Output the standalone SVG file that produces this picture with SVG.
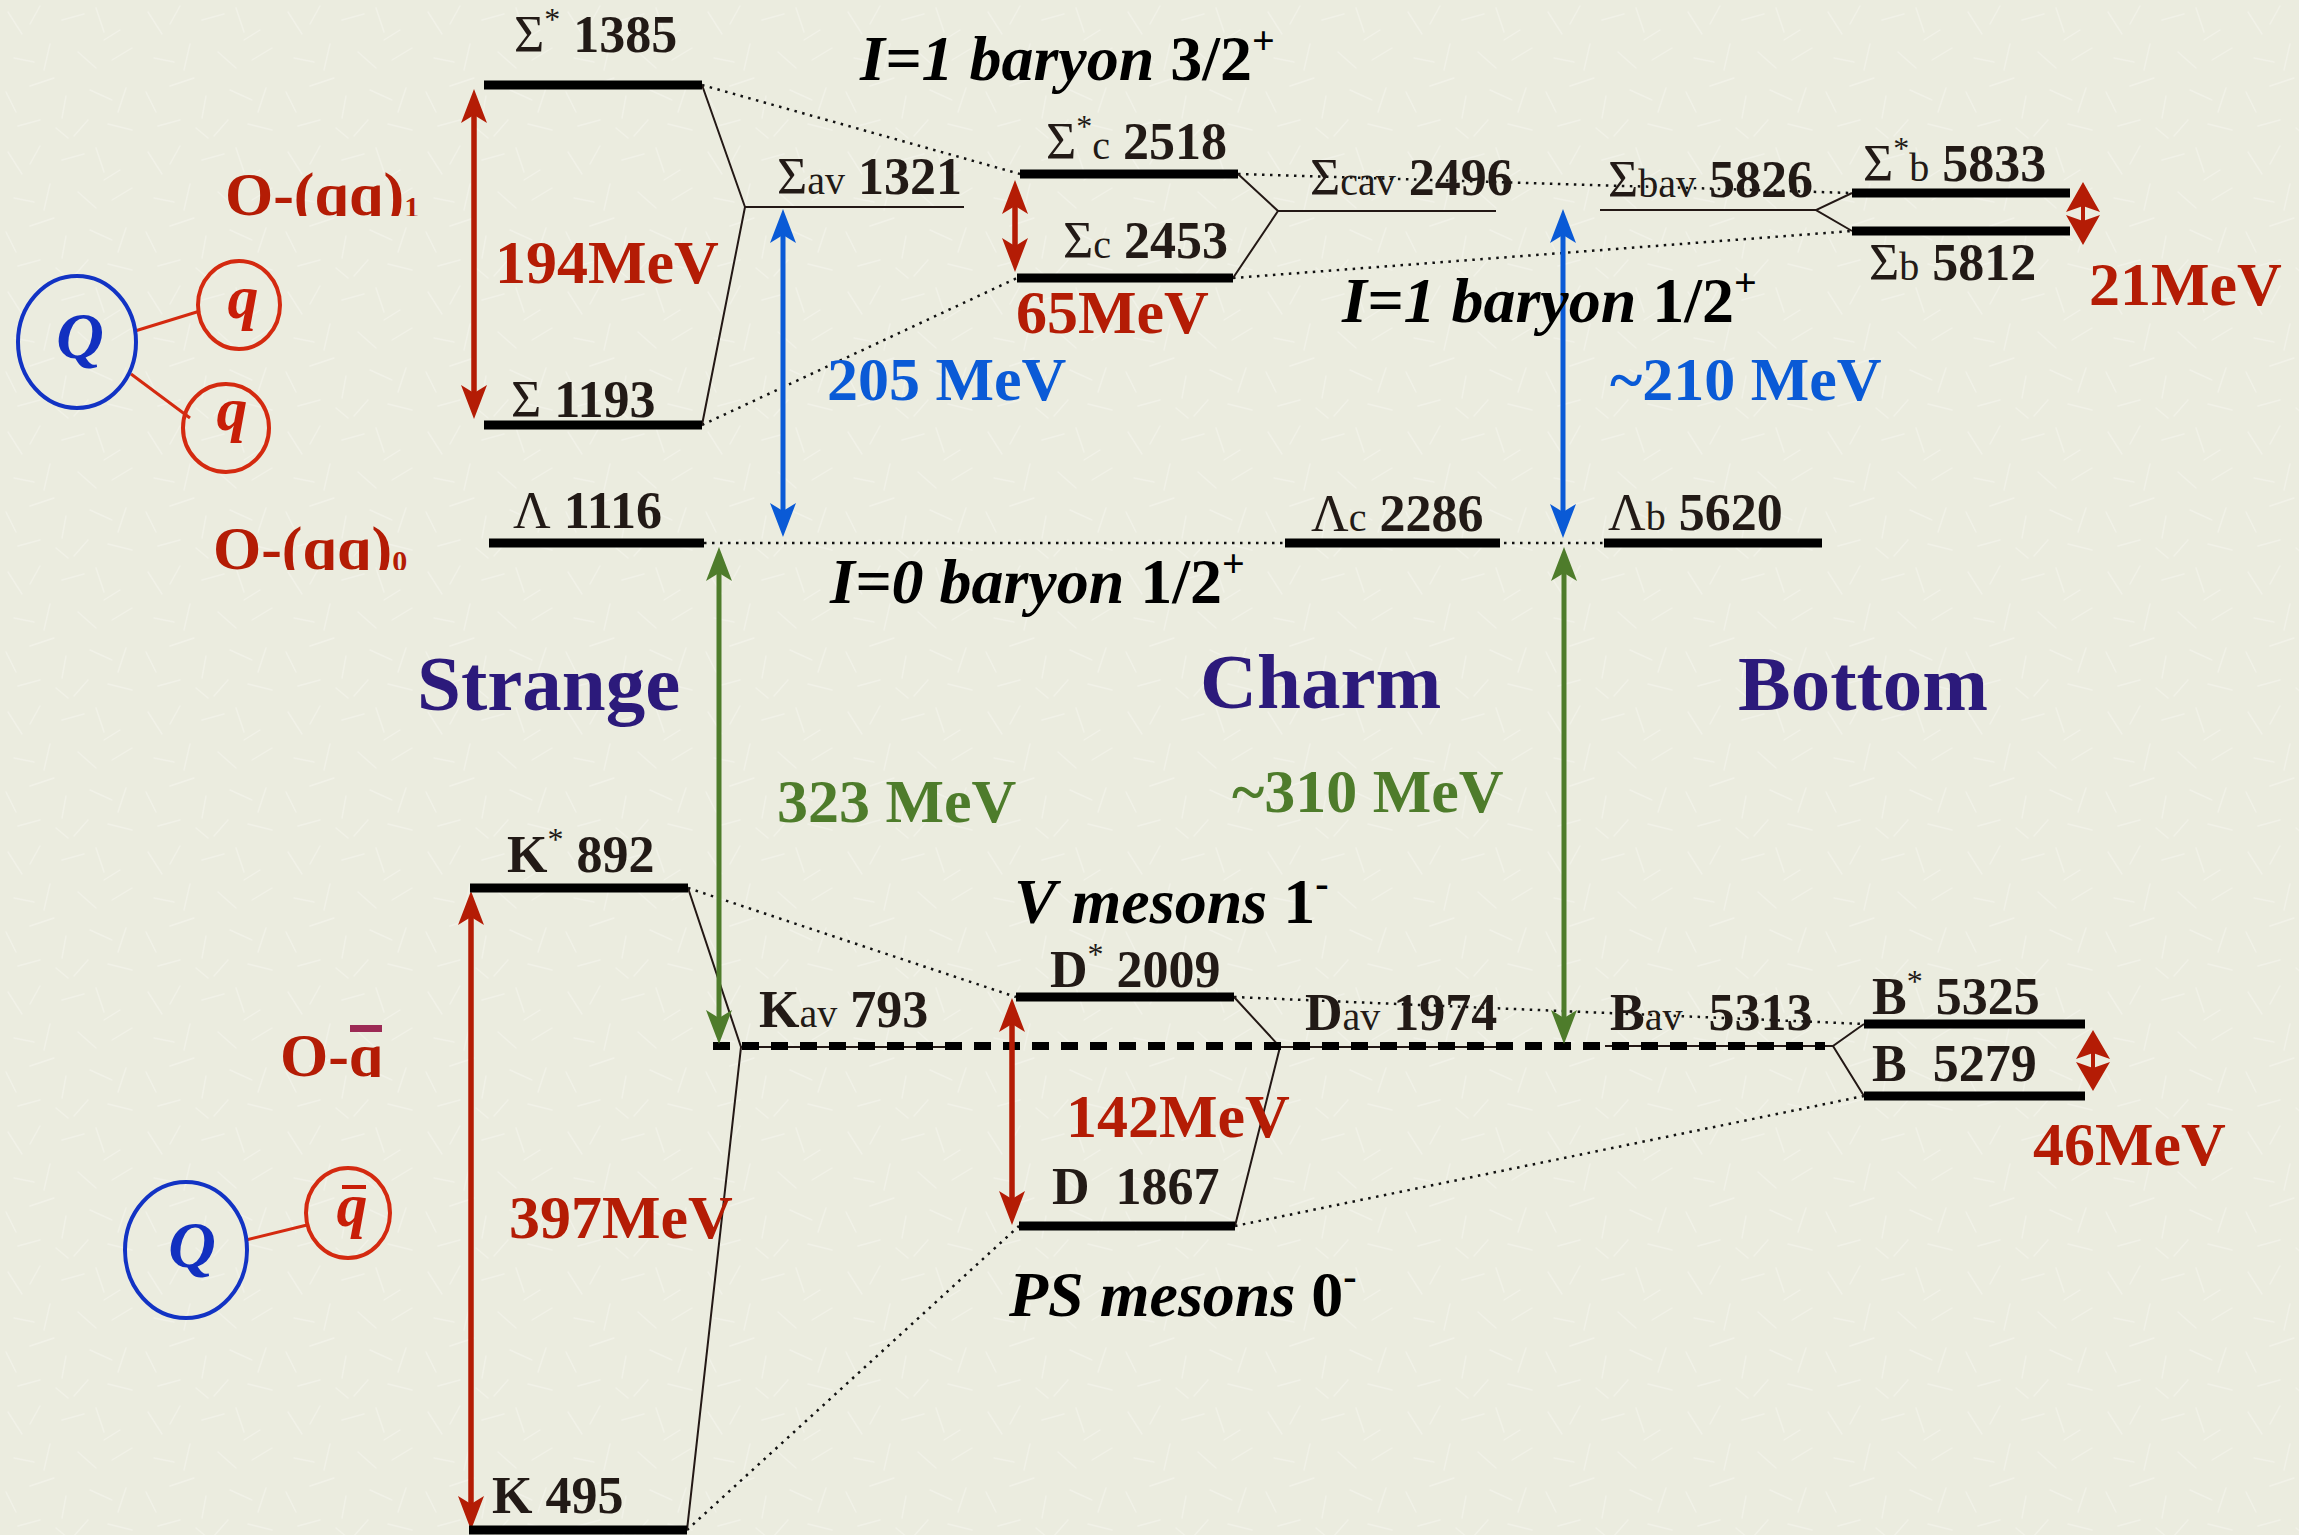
<svg xmlns="http://www.w3.org/2000/svg" width="2299" height="1535" viewBox="0 0 2299 1535">
<style>
.t{font-family:"Liberation Serif","Times New Roman",serif;font-weight:bold;fill:#221a16}
.lbl{font-size:52px}
.sym{font-weight:normal}
.sub{font-size:40px;font-weight:normal}
.sup{font-size:32px;font-weight:normal}
.mev{font-size:62px}
.red{fill:#b41c05}
.blue{fill:#0a5ad6}
.green{fill:#4e7c2b}
.head{font-size:79px;fill:#2c1a7b}
.ital{font-size:64px;fill:#000}
.it{font-style:italic}
.olbl{font-size:62px;fill:#b41c05}
.bar{stroke:#000;stroke-width:9;fill:none}
.thin{stroke:#231815;stroke-width:2;fill:none}
.dot{stroke:#111;stroke-width:2.5;stroke-dasharray:2.5 5.5;fill:none}
.dash{stroke:#000;stroke-width:8;stroke-dasharray:17 12;fill:none}
.ar{stroke:#b41c05;stroke-width:5.5;fill:none;marker-start:url(#ahR);marker-end:url(#ahR)}
.ab{stroke:#0a5ad6;stroke-width:5;fill:none;marker-start:url(#ahB);marker-end:url(#ahB)}
.ag{stroke:#4e7c2b;stroke-width:5;fill:none;marker-start:url(#ahG);marker-end:url(#ahG)}
.cb{fill:none;stroke:#1233c4;stroke-width:4}
.cr{fill:none;stroke:#d42a10;stroke-width:4}
.lr{stroke:#d42a10;stroke-width:3}
.qb{font-family:"Liberation Serif","Times New Roman",serif;font-weight:bold;font-style:italic;font-size:66px;fill:#1230c0}
.qr{font-family:"Liberation Serif","Times New Roman",serif;font-weight:bold;font-style:italic;font-size:62px;fill:#c81e08}
.tex{stroke:#f6f6ee;stroke-width:1.4;stroke-linecap:round;fill:none;opacity:0.55}
</style>
<defs>
<marker id="ahR" viewBox="0 0 34 26" refX="12" refY="13" markerWidth="34" markerHeight="26" markerUnits="userSpaceOnUse" orient="auto-start-reverse"><path d="M0,0 L34,13 L0,26 L8,13 Z" fill="#b41c05"/></marker>
<marker id="ahB" viewBox="0 0 34 26" refX="12" refY="13" markerWidth="34" markerHeight="26" markerUnits="userSpaceOnUse" orient="auto-start-reverse"><path d="M0,0 L34,13 L0,26 L8,13 Z" fill="#0a5ad6"/></marker>
<marker id="ahG" viewBox="0 0 34 26" refX="12" refY="13" markerWidth="34" markerHeight="26" markerUnits="userSpaceOnUse" orient="auto-start-reverse"><path d="M0,0 L34,13 L0,26 L8,13 Z" fill="#4e7c2b"/></marker>
<clipPath id="clipO1"><rect x="200" y="140" width="260" height="76"/></clipPath>
<clipPath id="clipO0"><rect x="190" y="495" width="260" height="75"/></clipPath>
<clipPath id="clipOq"><rect x="260" y="1000" width="160" height="77"/></clipPath>
<pattern id="paper" x="0" y="0" width="140" height="140" patternUnits="userSpaceOnUse">
  <rect width="140" height="140" fill="#ebecdf"/>
  <path class="tex" d="M8,12 l14,22 M40,6 l-10,18 M62,20 l22,-6 M96,8 l8,24 M120,30 l-16,10 M14,58 l20,4 M50,44 l-6,26 M78,52 l18,16 M112,60 l20,-12 M6,92 l10,20 M30,86 l24,-8 M66,96 l-4,22 M90,90 l22,10 M126,88 l-8,24 M18,126 l22,-6 M56,128 l12,10 M88,120 l-14,16 M108,124 l24,6"/>
</pattern>
</defs>
<rect x="0" y="0" width="2299" height="1535" fill="url(#paper)"/>

<!-- connectors -->
<g id="connectors">
  <line class="dot" x1="702" y1="85" x2="1020" y2="174"/>
  <line class="dot" x1="702" y1="425" x2="1017" y2="278"/>
  <line class="dot" x1="1238" y1="174" x2="1852" y2="193"/>
  <line class="dot" x1="1233" y1="278" x2="1852" y2="231"/>
  <line class="dot" x1="704" y1="543" x2="1604" y2="543"/>
  <line class="dot" x1="688" y1="888" x2="1016" y2="997"/>
  <line class="dot" x1="687" y1="1530" x2="1019" y2="1226"/>
  <line class="dot" x1="1234" y1="997" x2="1864" y2="1024"/>
  <line class="dot" x1="1235" y1="1226" x2="1864" y2="1096"/>
  <polyline class="thin" points="702,85 745,207 702,425"/>
  <polyline class="thin" points="1238,174 1278,211 1233,278"/>
  <polyline class="thin" points="1852,193 1816,210 1852,231"/>
  <polyline class="thin" points="688,888 741,1047 687,1530"/>
  <polyline class="thin" points="1234,997 1280,1047 1235,1226"/>
  <polyline class="thin" points="1864,1024 1833,1046 1864,1096"/>
  <line class="thin" x1="745" y1="207" x2="964" y2="207"/>
  <line class="thin" x1="1278" y1="211" x2="1496" y2="211"/>
  <line class="thin" x1="1600" y1="210" x2="1816" y2="210"/>
  <line class="thin" x1="741" y1="1047" x2="960" y2="1047"/>
  <line class="thin" x1="1280" y1="1047" x2="1500" y2="1047"/>
  <line class="thin" x1="1605" y1="1046" x2="1833" y2="1046"/>
  <line class="dash" x1="713" y1="1046" x2="1825" y2="1046"/>
  <line class="ar" x1="474" y1="111" x2="474" y2="397"/>
  <line class="ar" x1="1015" y1="202" x2="1015" y2="250"/>
  <line class="ar" x1="471" y1="913" x2="471" y2="1508"/>
  <line class="ar" x1="1012" y1="1020" x2="1012" y2="1203"/>
  <line class="ab" x1="783" y1="231" x2="783" y2="515"/>
  <line class="ab" x1="1563" y1="231" x2="1563" y2="516"/>
  <line class="ag" x1="719" y1="569" x2="719" y2="1022"/>
  <line class="ag" x1="1564" y1="569" x2="1564" y2="1022"/>
  <g fill="#b41c05">
    <path d="M2083,182 L2100,212 L2083,206 L2066,212 Z M2083,245 L2100,215 L2083,221 L2066,215 Z"/>
    <rect x="2081" y="205" width="4" height="17"/>
    <path d="M2093,1030 L2110,1059 L2093,1053 L2076,1059 Z M2093,1091 L2110,1062 L2093,1068 L2076,1062 Z"/>
    <rect x="2091" y="1052" width="4" height="17"/>
  </g>
</g>

<!-- quark pictograms -->
<g id="diquark-pict">
  <line class="lr" x1="135" y1="331" x2="200" y2="311"/>
  <line class="lr" x1="131" y1="374" x2="190" y2="418"/>
  <ellipse class="cb" cx="77" cy="342" rx="59" ry="66"/>
  <ellipse class="cr" cx="239" cy="305" rx="41" ry="44"/>
  <ellipse class="cr" cx="226" cy="428" rx="43" ry="44"/>
  <text class="qb" x="80" y="358" text-anchor="middle">Q</text>
  <text class="qr" x="243" y="318" text-anchor="middle">q</text>
  <text class="qr" x="232" y="430" text-anchor="middle">q</text>
</g>
<g id="antiquark-pict">
  <line class="lr" x1="246" y1="1240" x2="307" y2="1225"/>
  <ellipse class="cb" cx="186" cy="1250" rx="61" ry="68"/>
  <ellipse class="cr" cx="348" cy="1213" rx="42" ry="45"/>
  <text class="qb" x="192" y="1267" text-anchor="middle">Q</text>
  <text class="qr" x="352" y="1226" text-anchor="middle">q</text>
  <rect x="342" y="1185" width="24" height="4" fill="#c81e08"/>
</g>

<!-- labels on the left -->
<g id="O-qq1"><text class="t olbl" x="225" y="215" clip-path="url(#clipO1)">O-(qq)<tspan font-size="30" dy="2">1</tspan></text></g>
<g id="O-qq0"><text class="t olbl" x="213" y="569" clip-path="url(#clipO0)">O-(qq)<tspan font-size="30" dy="2">0</tspan></text></g>
<g id="O-qbar"><text class="t olbl" x="280" y="1076" clip-path="url(#clipOq)">O-q</text><rect x="350" y="1025" width="32" height="7" fill="#9c2a55"/></g>

<!-- Strange baryons -->
<g id="Sigma-star-1385"><line class="bar" x1="484" y1="85" x2="702" y2="85"/><text class="t lbl" x="514" y="52"><tspan class="sym">Σ</tspan><tspan class="sup" dy="-22">*</tspan><tspan dy="22"> 1385</tspan></text></g>
<g id="Sigma-1193"><line class="bar" x1="484" y1="425" x2="702" y2="425"/><text class="t lbl" x="511" y="417"><tspan class="sym">Σ</tspan> 1193</text></g>
<g id="Sigma-av-1321"><text class="t lbl" x="777" y="194"><tspan class="sym">Σ</tspan><tspan class="sub">av</tspan> 1321</text></g>
<g id="Lambda-1116"><line class="bar" x1="489" y1="543" x2="704" y2="543"/><text class="t lbl" x="513" y="528"><tspan class="sym">Λ</tspan> 1116</text></g>

<!-- Charm baryons -->
<g id="Sigma-c-star-2518"><line class="bar" x1="1020" y1="174" x2="1238" y2="174"/><text class="t lbl" x="1046" y="159"><tspan class="sym">Σ</tspan><tspan class="sup" dy="-22">*</tspan><tspan class="sub" dy="22">c</tspan> 2518</text></g>
<g id="Sigma-c-2453"><line class="bar" x1="1017" y1="278" x2="1233" y2="278"/><text class="t lbl" x="1063" y="258"><tspan class="sym">Σ</tspan><tspan class="sub">c</tspan> 2453</text></g>
<g id="Sigma-cav-2496"><text class="t lbl" x="1310" y="195"><tspan class="sym">Σ</tspan><tspan class="sub">cav</tspan> 2496</text></g>
<g id="Lambda-c-2286"><line class="bar" x1="1285" y1="543" x2="1500" y2="543"/><text class="t lbl" x="1311" y="531"><tspan class="sym">Λ</tspan><tspan class="sub">c</tspan> 2286</text></g>

<!-- Bottom baryons -->
<g id="Sigma-bav-5826"><text class="t lbl" x="1608" y="197"><tspan class="sym">Σ</tspan><tspan class="sub">bav</tspan> 5826</text></g>
<g id="Sigma-b-star-5833"><line class="bar" x1="1852" y1="193" x2="2070" y2="193"/><text class="t lbl" x="1863" y="181"><tspan class="sym">Σ</tspan><tspan class="sup" dy="-22">*</tspan><tspan class="sub" dy="22">b</tspan> 5833</text></g>
<g id="Sigma-b-5812"><line class="bar" x1="1852" y1="231" x2="2070" y2="231"/><text class="t lbl" x="1869" y="280"><tspan class="sym">Σ</tspan><tspan class="sub">b</tspan> 5812</text></g>
<g id="Lambda-b-5620"><line class="bar" x1="1604" y1="543" x2="1822" y2="543"/><text class="t lbl" x="1608" y="530"><tspan class="sym">Λ</tspan><tspan class="sub">b</tspan> 5620</text></g>

<!-- Mesons -->
<g id="K-star-892"><line class="bar" x1="470" y1="888" x2="688" y2="888"/><text class="t lbl" x="507" y="872">K<tspan class="sup" dy="-22">*</tspan><tspan dy="22"> 892</tspan></text></g>
<g id="K-495"><line class="bar" x1="469" y1="1530" x2="687" y2="1530"/><text class="t lbl" x="492" y="1513">K 495</text></g>
<g id="K-av-793"><text class="t lbl" x="759" y="1027">K<tspan class="sub">av</tspan> 793</text></g>
<g id="D-star-2009"><line class="bar" x1="1016" y1="997" x2="1234" y2="997"/><text class="t lbl" x="1050" y="987">D<tspan class="sup" dy="-22">*</tspan><tspan dy="22"> 2009</tspan></text></g>
<g id="D-1867"><line class="bar" x1="1019" y1="1226" x2="1235" y2="1226"/><text class="t lbl" x="1052" y="1204" xml:space="preserve">D  1867</text></g>
<g id="D-av-1974"><text class="t lbl" x="1305" y="1030">D<tspan class="sub">av</tspan> 1974</text></g>
<g id="B-av-5313"><text class="t lbl" x="1610" y="1030" xml:space="preserve">B<tspan class="sub">av</tspan>  5313</text></g>
<g id="B-star-5325"><line class="bar" x1="1864" y1="1024" x2="2085" y2="1024"/><text class="t lbl" x="1872" y="1014">B<tspan class="sup" dy="-22">*</tspan><tspan dy="22"> 5325</tspan></text></g>
<g id="B-5279"><line class="bar" x1="1864" y1="1096" x2="2085" y2="1096"/><text class="t lbl" x="1872" y="1081" xml:space="preserve">B  5279</text></g>

<!-- multiplet titles -->
<g id="titles">
  <text class="t ital" x="860" y="80"><tspan class="it">I=1 baryon </tspan>3/2<tspan font-size="40" dy="-26">+</tspan></text>
  <text class="t ital" x="1342" y="322"><tspan class="it">I=1 baryon </tspan>1/2<tspan font-size="40" dy="-26">+</tspan></text>
  <text class="t ital" x="830" y="603"><tspan class="it">I=0 baryon </tspan>1/2<tspan font-size="40" dy="-26">+</tspan></text>
  <text class="t ital" x="1014" y="923"><tspan class="it">V mesons </tspan>1<tspan font-size="40" dy="-26">-</tspan></text>
  <text class="t ital" x="1009" y="1316"><tspan class="it">PS mesons </tspan>0<tspan font-size="40" dy="-26">-</tspan></text>
  <text class="t head" x="417" y="710">Strange</text>
  <text class="t head" x="1200" y="708">Charm</text>
  <text class="t head" x="1738" y="710">Bottom</text>
</g>

<!-- energy splitting values -->
<g id="values">
  <text class="t mev red" x="495" y="283">194MeV</text>
  <text class="t mev red" x="1016" y="333">65MeV</text>
  <text class="t mev red" x="2089" y="305">21MeV</text>
  <text class="t mev red" x="509" y="1238">397MeV</text>
  <text class="t mev red" x="1066" y="1137">142MeV</text>
  <text class="t mev red" x="2033" y="1165">46MeV</text>
  <text class="t mev blue" x="827" y="400">205 MeV</text>
  <text class="t mev blue" x="1610" y="400">~210 MeV</text>
  <text class="t mev green" x="777" y="822">323 MeV</text>
  <text class="t mev green" x="1232" y="812">~310 MeV</text>
</g>
</svg>
